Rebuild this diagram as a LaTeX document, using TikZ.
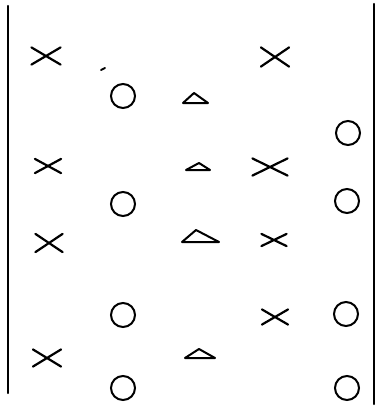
\documentclass[tikz,border=0pt]{standalone}
\usetikzlibrary{shapes.misc}

\tikzset{
  mark x/.style={draw, cross out, inner sep=0pt, line width=2.2pt},
  mark o/.style={draw, circle, inner sep=0pt, minimum size=24pt, line width=2pt},
  mark t/.style={draw, line width=2pt, line join=round},
  wall/.style={line width=2.4pt}
}

\begin{document}
\begin{tikzpicture}[x=1pt, y=-1pt, line cap=round]
  \useasboundingbox (0,0) rectangle (379,410);

  % side walls
  \coordinate (lt) at (8,6);
  \coordinate (lb) at (8,393);
  \coordinate (rt) at (374,4);
  \coordinate (rb) at (374,404);
  \draw[wall] (lt) -- (lb);
  \draw[wall] (rt) -- (rb);

  % crosses
  \node[mark x, minimum width=27pt, minimum height=15pt] (x1) at (46,56) {};
  \node[mark x, minimum width=26pt, minimum height=17pt] (x2) at (275,57) {};
  \node[mark x, minimum width=24pt, minimum height=12pt] (x3) at (48,166) {};
  \node[mark x, minimum width=33pt, minimum height=15pt] (x4) at (270,167) {};
  \node[mark x, minimum width=25pt, minimum height=16pt] (x5) at (49,243) {};
  \node[mark x, minimum width=23pt, minimum height=10pt] (x6) at (274,240) {};
  \node[mark x, minimum width=24pt, minimum height=13pt] (x7) at (275,317) {};
  \node[mark x, minimum width=26pt, minimum height=15pt] (x8) at (47,358) {};

  % circles
  \node[mark o] (o1) at (123,96) {};
  \node[mark o] (o2) at (348,133) {};
  \node[mark o] (o3) at (123,204) {};
  \node[mark o] (o4) at (347,201) {};
  \node[mark o] (o5) at (123,315) {};
  \node[mark o] (o6) at (346,314) {};
  \node[mark o] (o7) at (123,388) {};
  \node[mark o] (o8) at (347,388) {};

  % triangles
  \draw[mark t] (183,103) -- (208,103) -- (194,93) -- cycle;
  \draw[mark t] (186,170) -- (210,170) -- (199,163) -- cycle;
  \draw[mark t] (182,242) -- (219,242) -- (196,230) -- cycle;
  \draw[mark t] (185,358) -- (215,358) -- (199,349) -- cycle;

  % stray speck
  \draw[line width=1.8pt] (101,70) -- (105,68);
\end{tikzpicture}
\end{document}
